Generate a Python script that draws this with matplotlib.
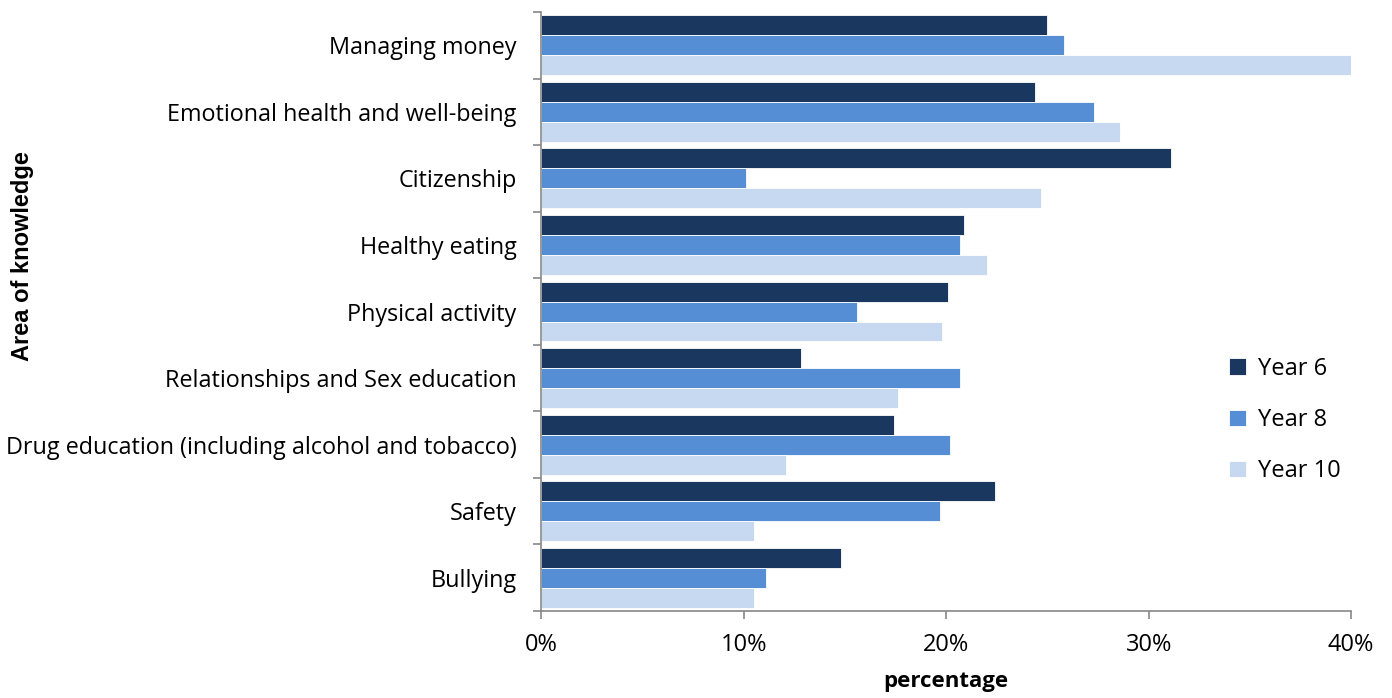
import matplotlib
matplotlib.use("Agg")
import matplotlib.pyplot as plt
import numpy as np
from matplotlib.ticker import FixedLocator, FuncFormatter

categories = ["Managing money", "Emotional health and well-being", "Citizenship",
              "Healthy eating", "Physical activity", "Relationships and Sex education",
              "Drug education (including alcohol and tobacco)", "Safety", "Bullying"]
year6 = [25.0, 24.4, 31.1, 20.9, 20.1, 12.8, 17.4, 22.4, 14.8]
year8 = [25.8, 27.3, 10.1, 20.7, 15.6, 20.7, 20.2, 19.7, 11.1]
year10 = [40.1, 28.6, 24.7, 22.0, 19.8, 17.6, 12.1, 10.5, 10.5]
series_names = ["Year 6", "Year 8", "Year 10"]
colors = ["#1A385F", "#558ED5", "#C6D9F1"]

plt.rcParams['font.family'] = ['Open Sans', 'DejaVu Sans']

fig = plt.figure(figsize=(13.92, 6.98), dpi=100)
ax = fig.add_axes([0.389, 0.1246, 0.9706 - 0.389, 0.9828 - 0.1246])

y = np.arange(len(categories))
h = 0.3
for k, (vals, name, c) in enumerate(zip([year6, year8, year10], series_names, colors)):
    ax.barh(y + (k - 1) * h, vals, height=h, color=c, edgecolor="white", linewidth=0.6, label=name)

ax.set_xlim(0, 40)
ax.set_ylim(len(categories) - 0.5, -0.5)
ax.set_xticks([0, 10, 20, 30, 40])
ax.xaxis.set_major_formatter(FuncFormatter(lambda v, p: f"{int(v)}%"))
ax.set_yticks(y)
ax.set_yticklabels(categories)
ax.yaxis.set_minor_locator(FixedLocator(np.arange(-0.5, len(categories), 1.0)))
ax.tick_params(axis='y', which='major', length=0, pad=18, labelsize=16.8)
ax.tick_params(axis='y', which='minor', length=6, color="#888888", width=1.2)
ax.tick_params(axis='x', which='major', length=6, color="#888888", width=1.2, labelsize=17, pad=10)

for s in ["top", "right"]:
    ax.spines[s].set_visible(False)
for s in ["left", "bottom"]:
    ax.spines[s].set_color("#888888")
    ax.spines[s].set_linewidth(1.2)

ax.set_xlabel("percentage", fontsize=16, fontweight="bold", labelpad=10)
fig.text(0.016, 0.633, "Area of knowledge", rotation=90, fontsize=17, fontweight="bold",
         ha="center", va="center", family=["Liberation Sans", "DejaVu Sans"])

leg = ax.legend(loc="upper left", bbox_to_anchor=(0.838, 0.44), frameon=False, fontsize=17,
                handlelength=0.7, handleheight=0.7, labelspacing=1.15, handletextpad=0.5,
                borderaxespad=0)

fig.savefig("out.png", dpi=100)
